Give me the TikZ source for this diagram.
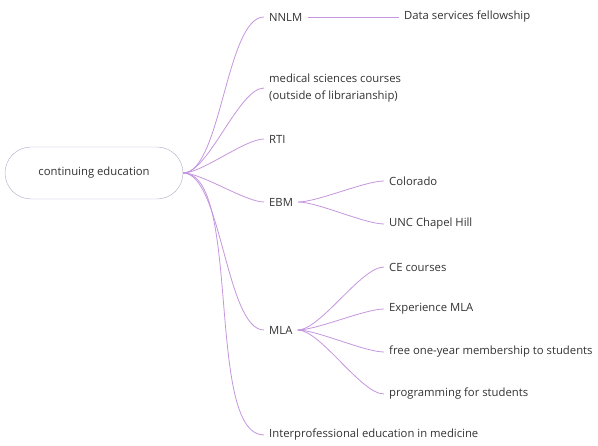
\documentclass[tikz,border=0pt]{standalone}
\usepackage{fontspec}
\setmainfont{Open Sans}
\usetikzlibrary{calc}
\usetikzlibrary{positioning}
\definecolor{edgepurple}{RGB}{196,150,222}
\definecolor{rootborder}{RGB}{178,166,200}
\definecolor{textgrey}{RGB}{50,50,50}
\tikzstyle{rootnode} = [draw=rootborder, rounded corners=26pt, minimum width=178pt, minimum height=52pt, text=textgrey, font=\fontsize{11.3}{13}\selectfont]
\tikzstyle{topic} = [anchor=west, inner xsep=5pt, text=textgrey, align=left, font=\fontsize{11.3}{17}\selectfont]
\tikzstyle{branch} = [draw=edgepurple, line width=0.8pt, out=0, in=180, looseness=0.55]

\begin{document}
\begin{tikzpicture}[x=1pt, y=-1pt]
    \useasboundingbox (0,0) rectangle (598,446);
    \node[rootnode] (root) at (94,173) {continuing education};

    \node[topic] (nnlm) at (264,17) {NNLM};
    \node[topic] (data) at (399,17) {Data services fellowship};
    \node[topic] (med) at (264,88) {medical sciences courses\\(outside of librarianship)};
    \node[topic] (rti) at (264,139) {RTI};
    \node[topic] (ebm) at (264,202) {EBM};
    \node[topic] (colorado) at ($(ebm.west)+(120,-21)$) {Colorado};
    \node[topic] (unc) at ($(ebm.west)+(120,22)$) {UNC Chapel Hill};
    \node[topic] (mla) at (264,330) {MLA};
    \node[topic] (ce) at ($(mla.west)+(120,-63)$) {CE courses};
    \node[topic] (exp) at ($(mla.west)+(120,-21)$) {Experience MLA};
    \node[topic] (free) at ($(mla.west)+(120,22)$) {free one-year membership to students};
    \node[topic] (prog) at ($(mla.west)+(120,64)$) {programming for students};
    \node[topic] (inter) at (264,435) {Interprofessional education in medicine};

    \draw[branch] (root.east) to (nnlm.west);
    \draw[draw=edgepurple, line width=0.8pt] (nnlm.east) -- (data.west);
    \draw[branch] (root.east) to (med.west);
    \draw[branch] (root.east) to (rti.west);
    \draw[branch] (root.east) to (ebm.west);
    \draw[branch] (ebm.east) to (colorado.west);
    \draw[branch] (ebm.east) to (unc.west);
    \draw[branch] (root.east) to (mla.west);
    \draw[branch] (mla.east) to (ce.west);
    \draw[branch] (mla.east) to (exp.west);
    \draw[branch] (mla.east) to (free.west);
    \draw[branch] (mla.east) to (prog.west);
    \draw[branch] (root.east) to (inter.west);
\end{tikzpicture}
\end{document}
